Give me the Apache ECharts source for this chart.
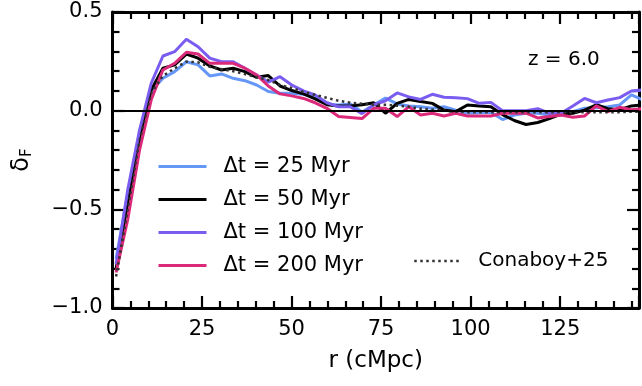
<!DOCTYPE html>
<html>
<head>
<meta charset="utf-8">
<script src="https://cdn.jsdelivr.net/npm/echarts@6/dist/echarts.min.js"></script>
<style>
  html, body { margin: 0; padding: 0; background: #fff; }
  #chart { width: 642px; height: 386px; }
</style>
</head>
<body>
<div id="chart"></div>
<script>
// r bins (cMpc)
const rValues = [1.00, 4.27, 7.54, 10.81, 14.08, 17.35, 20.62, 23.89, 27.16, 30.43,
  33.70, 36.97, 40.24, 43.51, 46.78, 50.05, 53.32, 56.59, 59.86, 63.13,
  66.40, 69.67, 72.94, 76.21, 79.48, 82.75, 86.02, 89.29, 92.56, 95.83,
  99.10, 102.37, 105.64, 108.91, 112.18, 115.45, 118.72, 121.99, 125.26, 128.53,
  131.80, 135.07, 138.34, 141.61, 144.88, 148.15];

const dt25 = [-0.75, -0.42, -0.12, 0.10, 0.164, 0.198, 0.248, 0.232, 0.176, 0.186,
  0.164, 0.152, 0.13, 0.097, 0.088, 0.088, 0.083, 0.07, 0.032, 0.029,
  0.034, -0.007, 0.029, 0.064, 0.034, 0.024, 0.02, 0.012, 0.02, 0.003,
  -0.013, -0.01, -0.008, -0.045, -0.022, -0.013, -0.013, -0.022, -0.022, -0.005,
  0.012, 0.015, 0.02, 0.029, 0.08, 0.054];

const dt50 = [-0.80, -0.47, -0.14, 0.105, 0.215, 0.232, 0.287, 0.266, 0.227, 0.206,
  0.215, 0.198, 0.169, 0.178, 0.125, 0.102, 0.085, 0.06, 0.03, 0.024,
  0.024, 0.03, 0.04, -0.013, 0.037, 0.057, 0.046, 0.037, 0.003, -0.005,
  0.029, 0.024, 0.02, -0.02, -0.05, -0.07, -0.06, -0.04, -0.017, -0.013,
  0.003, 0.03, 0.01, 0.005, 0.024, 0.03];

const dt100 = [-0.78, -0.40, -0.10, 0.139, 0.277, 0.299, 0.362, 0.324, 0.266, 0.248,
  0.248, 0.215, 0.181, 0.145, 0.172, 0.13, 0.10, 0.08, 0.04, 0.02,
  0.02, -0.015, 0.03, 0.05, 0.09, 0.07, 0.057, 0.083, 0.068, 0.066,
  0.061, 0.037, 0.042, 0.0, 0.0, 0.0, 0.01, -0.013, -0.013, 0.024,
  0.062, 0.04, 0.054, 0.066, 0.10, 0.105];

const dt200 = [-0.82, -0.55, -0.20, 0.055, 0.206, 0.24, 0.296, 0.287, 0.24, 0.24,
  0.24, 0.215, 0.181, 0.125, 0.085, 0.075, 0.062, 0.04, 0.012, -0.03,
  -0.035, -0.04, 0.012, 0.012, -0.03, 0.02, -0.022, -0.013, -0.027, -0.013,
  -0.027, -0.027, -0.027, -0.013, -0.013, -0.013, -0.037, -0.03, -0.022, -0.033,
  -0.027, 0.024, -0.005, 0.017, 0.005, 0.01];

const conaboy25 = [-0.84, -0.50, -0.15, 0.09, 0.176, 0.215, 0.248, 0.245, 0.222, 0.21,
  0.20, 0.185, 0.17, 0.155, 0.13, 0.115, 0.095, 0.08, 0.065, 0.05,
  0.04, 0.035, 0.03, 0.03, 0.025, 0.02, 0.01, 0.005, 0.0, -0.005,
  -0.008, -0.008, -0.008, -0.008, -0.008, -0.008, -0.008, -0.008, -0.008, -0.008,
  -0.008, -0.008, -0.008, -0.008, -0.005, -0.005];

const xTicks = [0, 25, 50, 75, 100, 125];
const yTicks = [-1.0, -0.5, 0.0, 0.5];

const COLORS = {
  dt25: '#6497f8',
  dt50: '#000000',
  dt100: '#7b5cf0',
  dt200: '#dc2a7a',
  conaboy: '#333333'
};

const FONT = 'DejaVu Sans';

function pairs(ys) {
  return ys.map((y, i) => [rValues[i], y]);
}

function lineSeries(name, ys, color, extra) {
  return Object.assign({
    name: name,
    type: 'line',
    data: pairs(ys),
    symbol: 'none',
    clip: true,
    lineStyle: { color: color, width: 3 },
    itemStyle: { color: color },
    z: 3
  }, extra || {});
}

const tickCommon = {
  axisLine: { show: true, onZero: false, lineStyle: { color: '#000', width: 3 } },
  axisTick: { show: true, inside: true, length: 12, lineStyle: { color: '#000', width: 2.2 } },
  minorTick: { show: true, splitNumber: 5, length: 7, lineStyle: { color: '#000', width: 2.2 } },
  splitLine: { show: false }
};

const legendText = { fontFamily: FONT, fontSize: 21, color: '#000', lineHeight: 20, padding: [0, 0, 0, 12] };

const chart = echarts.init(document.getElementById('chart'));

chart.setOption({
  animation: false,
  backgroundColor: '#fff',
  grid: { left: 108, right: 2, top: 12, bottom: 78, containLabel: false },
  xAxis: [
    Object.assign({
      type: 'value', position: 'bottom', min: 0, max: 147, interval: 25,
      name: 'r (cMpc)', nameLocation: 'middle', nameGap: 42,
      nameTextStyle: { fontFamily: FONT, fontSize: 23, color: '#000' },
      axisLabel: {
        fontFamily: FONT, fontSize: 21, color: '#000', margin: 11,
        formatter: v => (xTicks.indexOf(v) >= 0 ? String(v) : '')
      }
    }, tickCommon),
    Object.assign({
      type: 'value', position: 'top', min: 0, max: 147, interval: 25,
      axisLabel: { show: false }
    }, tickCommon)
  ],
  yAxis: [
    Object.assign({
      type: 'value', position: 'left', min: -1, max: 0.5, interval: 0.5,
      name: '{d|δ}{s|F}', nameLocation: 'middle', nameGap: 76, nameRotate: 90,
      nameTextStyle: {
        rich: {
          d: { fontFamily: FONT, fontSize: 24, color: '#000', lineHeight: 30 },
          s: { fontFamily: FONT, fontSize: 15, color: '#000', lineHeight: 30, padding: [12, 0, 0, 0] }
        }
      },
      axisLabel: {
        fontFamily: FONT, fontSize: 21, color: '#000', margin: 10,
        formatter: v => (yTicks.indexOf(v) >= 0 ? v.toFixed(1).replace('-', '\u2212') : '')
      }
    }, tickCommon),
    Object.assign({
      type: 'value', position: 'right', min: -1, max: 0.5, interval: 0.5,
      axisLabel: { show: false }
    }, tickCommon)
  ],
  legend: [
    {
      orient: 'vertical', left: 157, top: 156, padding: 0,
      itemWidth: 48, itemHeight: 14, itemGap: 12,
      itemStyle: { opacity: 0 },
      lineStyle: { width: 3 },
      data: ['\u0394t = 25 Myr', '\u0394t = 50 Myr', '\u0394t = 100 Myr', '\u0394t = 200 Myr'],
      textStyle: legendText
    },
    {
      orient: 'vertical', left: 413, top: 251, padding: 0,
      itemWidth: 47, itemHeight: 14,
      itemStyle: { opacity: 0 },
      lineStyle: { width: 2.5 },
      data: ['Conaboy+25'],
      textStyle: Object.assign({}, legendText, { fontSize: 20 })
    }
  ],
  graphic: [
    {
      type: 'text', left: 528, top: 50,
      style: { text: 'z = 6.0', font: '20px "DejaVu Sans"', fill: '#000' }
    }
  ],
  series: [
    lineSeries('Conaboy+25', conaboy25, COLORS.conaboy, {
      lineStyle: { color: COLORS.conaboy, width: 2.5, type: [2.5, 3.5] },
      z: 4
    }),
    lineSeries('\u0394t = 25 Myr', dt25, COLORS.dt25, {
      markLine: {
        silent: true, symbol: 'none', label: { show: false },
        lineStyle: { color: '#000', width: 2.2, type: 'solid' },
        data: [{ yAxis: 0 }]
      }
    }),
    lineSeries('\u0394t = 50 Myr', dt50, COLORS.dt50),
    lineSeries('\u0394t = 100 Myr', dt100, COLORS.dt100),
    lineSeries('\u0394t = 200 Myr', dt200, COLORS.dt200)
  ]
});
</script>
</body>
</html>
